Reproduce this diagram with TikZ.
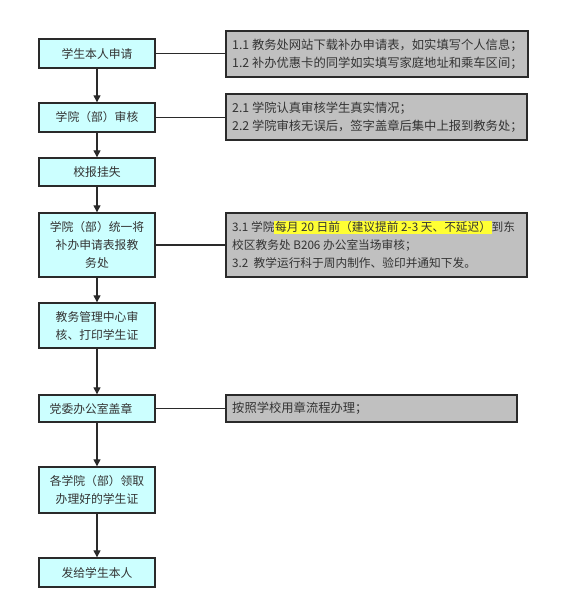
\documentclass[tikz,border=0pt]{standalone}
\usepackage{fontspec}
\setmainfont{Noto Sans CJK SC}
\usetikzlibrary{arrows.meta}
\definecolor{cyanfill}{HTML}{CCFFFF}
\definecolor{grayfill}{HTML}{C0C0C0}
\definecolor{edge}{HTML}{2A2A2A}
\definecolor{txt}{HTML}{333333}
\definecolor{hl}{HTML}{FFFF33}
\begin{document}
\begin{tikzpicture}[x=1pt,y=-1pt,
  stepbox/.style={draw=edge,line width=1.4pt,fill=cyanfill,minimum width=116pt,
    inner sep=2pt,align=center,text=txt,font=\fontsize{11.8}{18}\selectfont},
  notebox/.style={draw=edge,line width=2pt,fill=grayfill,inner sep=0pt},
  notetext/.style={anchor=west,xshift=7pt,align=left,inner sep=0pt,text=txt,
    font=\fontsize{12.3}{18}\selectfont},
  flow/.style={draw=edge,line width=1.3pt,-{Triangle[width=7pt,length=7pt]}},
  link/.style={draw=edge,line width=1.5pt}]
\useasboundingbox (0,0) rectangle (560,609);
\fill[white] (0,0) rectangle (560,609);
% steps
\node[stepbox,minimum height=29pt] (s1) at (97,53.5) {学生本人申请};
\node[stepbox,minimum height=29pt] (s2) at (97,117.5) {学院（部）审核};
\node[stepbox,minimum height=28pt] (s3) at (97,172) {校报挂失};
\node[stepbox,minimum height=64pt] (s4) at (97,245) {学院（部）统一将\\补办申请表报教\\务处};
\node[stepbox,minimum height=45pt] (s5) at (97,325.5) {教务管理中心审\\核、打印学生证};
\node[stepbox,minimum height=27pt] (s6) at (97,408.5) {\hspace*{-12pt}党委办公室盖章};
\node[stepbox,minimum height=46pt] (s7) at (97,490) {各学院（部）领取\\办理好的学生证};
\node[stepbox,minimum height=29pt] (s8) at (97,572.5) {发给学生本人};
% notes
\node[notebox,minimum width=302pt,minimum height=46pt] (g1) at (377,54) {};
\node[notetext] (g1t) at (g1.west) {1.1 教务处网站下载补办申请表，如实填写个人信息；\\1.2 补办优惠卡的同学如实填写家庭地址和乘车区间；};
\node[notebox,minimum width=301pt,minimum height=46pt] (g2) at (376.5,117) {};
\node[notetext] (g2t) at (g2.west) {2.1 学院认真审核学生真实情况；\\2.2 学院审核无误后，签字盖章后集中上报到教务处；};
\node[notebox,minimum width=301pt,minimum height=64pt] (g3) at (376.5,245) {};
\node[notetext,font=\fontsize{11.7}{18}\selectfont] (g3t) at (g3.west) {3.1 学院{\setlength\fboxsep{0.6pt}\colorbox{hl}{每月 20 日前（建议提前 2-3 天、不延迟）}}到东\\校区教务处 B206 办公室当场审核；\\3.2\ \ 教学运行科于周内制作、验印并通知下发。};
\node[notebox,minimum width=291pt,minimum height=27pt] (g6) at (371.5,408.5) {};
\node[notetext] (g6t) at (g6.west) {按照学校用章流程办理；};
% flow
\draw[flow] (s1) -- (s2);
\draw[flow] (s2) -- (s3);
\draw[flow] (s3) -- (s4);
\draw[flow] (s4) -- (s5);
\draw[flow] (s5) -- (s6);
\draw[flow] (s6) -- (s7);
\draw[flow] (s7) -- (s8);
% links
\draw[link] (s1.east) -- (g1.west |- s1.east);
\draw[link] (s2.east) -- (g2.west |- s2.east);
\draw[link] (s4.east) -- (g3.west |- s4.east);
\draw[link] (s6.east) -- (g6.west |- s6.east);
\end{tikzpicture}
\end{document}
